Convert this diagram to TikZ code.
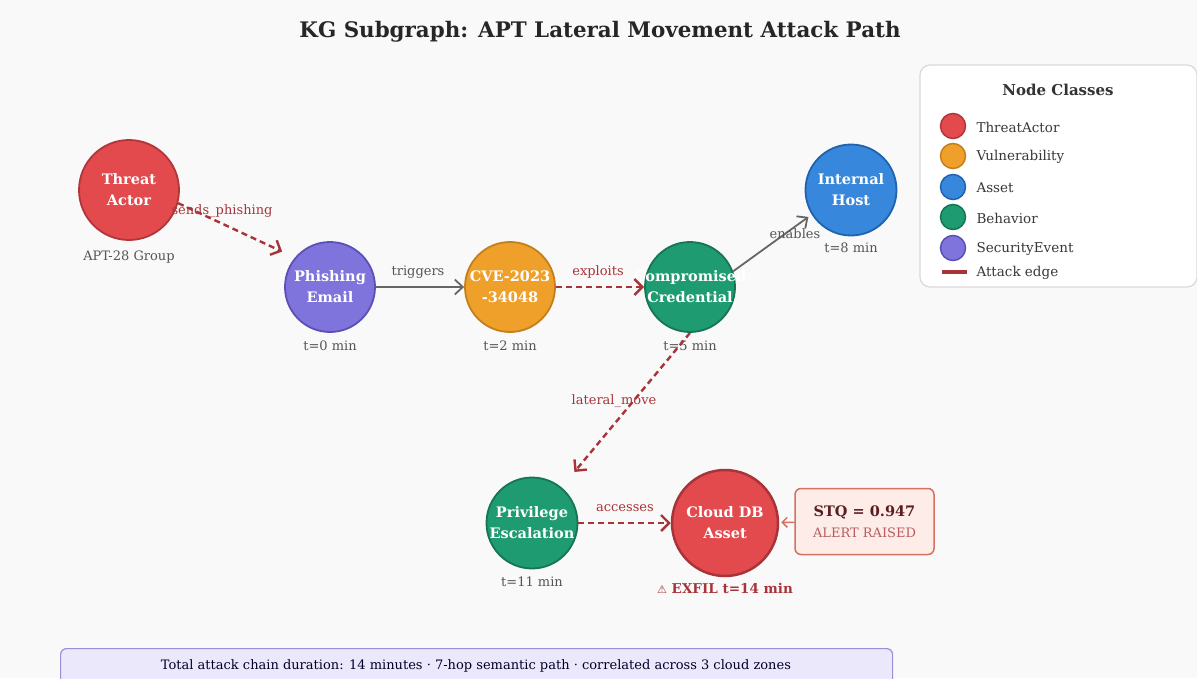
\documentclass[tikz,border=0pt]{standalone}
\usepackage{fontspec}
\setmainfont{DejaVu Serif}
\newfontfamily\symfont{DejaVu Sans}
\usetikzlibrary{arrows.meta}
\definecolor{bg}{HTML}{F9F9F9}
\definecolor{tared}{HTML}{E34A4D}
\definecolor{tabord}{HTML}{B2353A}
\definecolor{vpur}{HTML}{7F74DC}
\definecolor{vpurb}{HTML}{5B50B5}
\definecolor{vorg}{HTML}{EFA02B}
\definecolor{vorgb}{HTML}{C47F1C}
\definecolor{bgrn}{HTML}{1F9B72}
\definecolor{bgrnb}{HTML}{157556}
\definecolor{ablu}{HTML}{3787DC}
\definecolor{ablub}{HTML}{1F63AE}
\definecolor{atk}{HTML}{A8343A}
\definecolor{edgegray}{HTML}{666666}
\definecolor{labgray}{HTML}{555555}
\definecolor{stqfill}{HTML}{FDECE8}
\definecolor{stqbord}{HTML}{D4715F}
\definecolor{footfill}{HTML}{ECE8FB}
\definecolor{footbord}{HTML}{9A90D8}
\begin{document}
\begin{tikzpicture}[x=1pt,y=-1pt,
  kgnode/.style={circle, line width=1.8pt, text=white, align=center, inner sep=0pt,
    font=\fontsize{14.5}{21}\selectfont\bfseries},
  sublab/.style={text=labgray, font=\fontsize{13}{15}\selectfont},
  attackedge/.style={draw=atk, line width=2.4pt, dash pattern=on 6pt off 4pt,
    -{Straight Barb[length=8pt,width=16pt,line width=2.4pt]}},
  plainedge/.style={draw=edgegray, line width=1.8pt,
    -{Straight Barb[length=8pt,width=15pt,line width=1.8pt]}},
  atklab/.style={text=atk, font=\fontsize{13}{15}\selectfont},
  graylab/.style={text=labgray, font=\fontsize{13}{15}\selectfont},
  legdot/.style={circle, minimum size=25pt, inner sep=0pt, line width=1.5pt},
  legtext/.style={anchor=west, text=black!78, font=\fontsize{13.5}{16}\selectfont}
]
\fill[bg] (0,0) rectangle (1197,678);
\useasboundingbox (0,0) rectangle (1197,678);

% title
\node (title) at (600,32) {\fontsize{21.4}{25}\selectfont\bfseries\color{black!85}KG Subgraph: APT Lateral Movement Attack Path};

% nodes
\node[kgnode, fill=tared, draw=tabord, minimum size=100pt] (ta) at (129,190) {Threat\\Actor};
\node[kgnode, fill=vpur, draw=vpurb, minimum size=90pt] (pe) at (330,287) {Phishing\\Email};
\node[kgnode, fill=vorg, draw=vorgb, minimum size=90pt] (cve) at (510,287) {CVE-2023\\-34048};
\node[kgnode, fill=bgrn, draw=bgrnb, minimum size=90pt] (cc) at (690,287)
  {\makebox[0pt][c]{Compromised}\\\makebox[0pt][c]{Credential}};
\node[kgnode, fill=ablu, draw=ablub, minimum size=91pt] (ih) at (851,190) {Internal\\Host};
\node[kgnode, fill=bgrn, draw=bgrnb, minimum size=91pt] (pr) at (532,523) {Privilege\\Escalation};
\node[kgnode, fill=tared, draw=atk, line width=2.5pt, minimum size=106pt] (cd) at (725,523) {Cloud DB\\Asset};

\node[draw=stqbord, fill=stqfill, line width=1.5pt, rounded corners=6pt,
  minimum width=139pt, minimum height=66pt, align=center,
  font=\fontsize{14}{21}\selectfont] (stq) at (864.5,521.5)
  {{\fontsize{14.5}{20}\selectfont\bfseries\color{atk!55!black}STQ = 0.947}\\
   {\fontsize{13}{17}\selectfont\color{atk!80!white}ALERT RAISED}};

% sub labels
\node[sublab] (tal) at (129,257) {APT-28 Group};
\node[sublab] (pel) at (330,346) {t=0 min};
\node[sublab] (cvel) at (510,346) {t=2 min};
\node[sublab] (ccl) at (690,346) {t=5 min};
\node[sublab] (ihl) at (851,248) {t=8 min};
\node[sublab] (prl) at (532,582) {t=11 min};
\node[text=atk, font=\fontsize{13.5}{16}\selectfont\bfseries] (cdl) at (725,588)
  {{\symfont\fontsize{11}{14}\selectfont ⚠} EXFIL t=14 min};

% edges
\draw[attackedge, shorten >=14pt] (ta.-15) -- (pe.140);
\draw[plainedge] (pe) -- (cve);
\draw[attackedge] (cve) -- (cc);
\draw[plainedge, shorten >=4pt] (cc.20) -- (ih.212);
\draw[attackedge, shorten >=20pt] (cc.south) -- (pr);
\draw[attackedge] (pr) -- (cd);
\draw[draw=stqbord, line width=1.5pt, shorten >=2pt,
  -{Straight Barb[length=5pt,width=10pt,line width=1.5pt]}] (stq) -- (cd);

% edge labels
\node[atklab] (l1) at (222,211) {sends\_phishing};
\node[graylab] (l2) at (418,272) {triggers};
\node[atklab] (l3) at (598,272) {exploits};
\node[graylab] (l4) at (795,234) {enables};
\node[atklab] (l5) at (614,401) {lateral\_move};
\node[atklab] (l6) at (625,508) {accesses};

% legend
\node[draw=black!15, fill=white, line width=1.2pt, rounded corners=10pt,
  minimum width=277pt, minimum height=222pt] (leg) at (1058.5,176) {};
\node[font=\fontsize{15}{18}\selectfont\bfseries, text=black!80] (legt) at (1058,90) {Node Classes};
\node[legdot, fill=tared, draw=tabord] (d1) at (953,126) {};
\node[legdot, fill=vorg, draw=vorgb] (d2) at (953,156) {};
\node[legdot, fill=ablu, draw=ablub] (d3) at (953,187) {};
\node[legdot, fill=bgrn, draw=bgrnb] (d4) at (953,217) {};
\node[legdot, fill=vpur, draw=vpurb] (d5) at (953,248) {};
\coordinate (e1) at (942,272);
\coordinate (e2) at (967,272);
\draw[atk, line width=4.5pt] (e1) -- (e2);
\node[legtext] (t1) at (973,127) {ThreatActor};
\node[legtext] (t2) at (973,157) {Vulnerability};
\node[legtext] (t3) at (973,188) {Asset};
\node[legtext] (t4) at (973,218) {Behavior};
\node[legtext] (t5) at (973,249) {SecurityEvent};
\node[legtext] (t6) at (973,273) {Attack edge};

% footer
\node[draw=footbord, fill=footfill, line width=1.2pt, rounded corners=6pt,
  minimum width=832pt, minimum height=44pt, anchor=north west] (foot) at (60,648) {};
\node[font=\fontsize{13}{16}\selectfont, text=black!75!blue!60!black] (foott) at (476,666)
  {Total attack chain duration: 14 minutes · 7-hop semantic path · correlated across 3 cloud zones};
\end{tikzpicture}
\end{document}
